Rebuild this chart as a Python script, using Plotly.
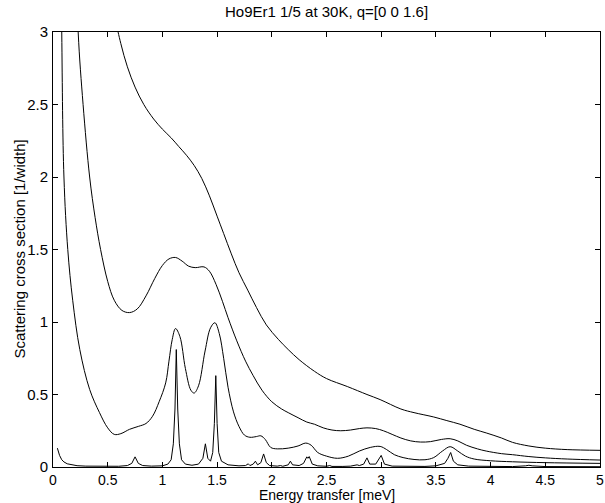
import plotly.graph_objects as go

# ---- data ----
energy_a = [0.50, 0.57, 0.62, 0.68, 0.75, 0.83, 0.92, 1.00, 1.08, 1.15, 1.22, 1.29, 1.36, 1.43,
            1.50, 1.56, 1.63, 1.70, 1.78, 1.86, 1.95, 2.06, 2.15, 2.25, 2.39, 2.50, 2.69, 2.87,
            2.99, 3.18, 3.30, 3.48, 3.60, 3.72, 3.85, 3.96, 4.10, 4.20, 4.35, 4.50, 4.70, 5.00]
signal_a = [3.60, 3.10, 2.92, 2.76, 2.62, 2.50, 2.40, 2.33, 2.27, 2.21, 2.15, 2.08, 1.99, 1.87,
            1.73, 1.61, 1.47, 1.34, 1.22, 1.10, 0.98, 0.88, 0.81, 0.74, 0.66, 0.61, 0.555, 0.50,
            0.465, 0.40, 0.375, 0.345, 0.32, 0.295, 0.26, 0.235, 0.20, 0.17, 0.145, 0.13, 0.12, 0.115]

energy_b = [0.19, 0.23, 0.275, 0.335, 0.385, 0.435, 0.50, 0.56, 0.63, 0.70, 0.77, 0.85, 0.93,
            1.00, 1.06, 1.12, 1.18, 1.24, 1.30, 1.38, 1.43, 1.49, 1.55, 1.60, 1.68, 1.76, 1.83,
            1.91, 2.00, 2.09, 2.15, 2.24, 2.32, 2.39, 2.47, 2.55, 2.63, 2.72, 2.80, 2.87, 2.95,
            3.02, 3.10, 3.18, 3.27, 3.36, 3.45, 3.55, 3.63, 3.70, 3.78, 3.88, 3.96, 4.10, 4.20,
            4.35, 4.50, 4.70, 5.00]
signal_b = [4.00, 3.00, 2.50, 2.00, 1.72, 1.50, 1.28, 1.15, 1.08, 1.065, 1.09, 1.18, 1.30,
            1.39, 1.435, 1.445, 1.42, 1.385, 1.375, 1.38, 1.35, 1.26, 1.14, 1.03, 0.87, 0.73, 0.63,
            0.53, 0.45, 0.40, 0.375, 0.34, 0.31, 0.295, 0.27, 0.255, 0.25, 0.255, 0.265, 0.27, 0.265,
            0.25, 0.225, 0.20, 0.18, 0.172, 0.175, 0.19, 0.195, 0.18, 0.15, 0.125, 0.11, 0.092, 0.085,
            0.072, 0.063, 0.055, 0.048]

energy_c = [0.06, 0.08, 0.10, 0.135, 0.18, 0.245, 0.335, 0.425, 0.50, 0.56, 0.62, 0.70, 0.78,
            0.85, 0.91, 0.97, 1.03, 1.06, 1.09, 1.12, 1.16, 1.21, 1.26, 1.29, 1.33, 1.39, 1.44,
            1.48, 1.52, 1.56, 1.60, 1.65, 1.70, 1.75, 1.80, 1.86, 1.90, 1.94, 1.99, 2.05, 2.15,
            2.24, 2.31, 2.36, 2.42, 2.50, 2.60, 2.70, 2.80, 2.90, 2.99, 3.05, 3.12, 3.20, 3.30,
            3.40, 3.48, 3.56, 3.63, 3.70, 3.77, 3.85, 4.00, 4.20, 4.50, 5.00]
signal_c = [5.00, 3.00, 2.00, 1.50, 1.15, 0.81, 0.535, 0.375, 0.27, 0.225, 0.23, 0.26, 0.28,
            0.30, 0.35, 0.45, 0.58, 0.73, 0.88, 0.955, 0.90, 0.68, 0.53, 0.51, 0.56, 0.80, 0.96,
            0.995, 0.92, 0.75, 0.55, 0.38, 0.28, 0.22, 0.205, 0.21, 0.215, 0.19, 0.135, 0.125, 0.13,
            0.145, 0.165, 0.15, 0.10, 0.075, 0.06, 0.075, 0.11, 0.135, 0.142, 0.12, 0.085, 0.065, 0.052,
            0.05, 0.065, 0.11, 0.14, 0.11, 0.075, 0.055, 0.043, 0.036, 0.03, 0.025]

energy_d = [0.04, 0.06, 0.08, 0.10, 0.13, 0.17, 0.22, 0.30, 0.40, 0.50, 0.60, 0.68, 0.72, 0.75,
            0.78, 0.82, 0.90, 1.00, 1.05, 1.08, 1.10, 1.115, 1.127, 1.14, 1.155, 1.175, 1.21, 1.27,
            1.33, 1.37, 1.393, 1.415, 1.44, 1.46, 1.475, 1.488, 1.50, 1.515, 1.54, 1.60, 1.70, 1.76,
            1.785, 1.80, 1.83, 1.85, 1.87, 1.90, 1.925, 1.95, 1.98, 2.05, 2.08, 2.10, 2.15, 2.17,
            2.19, 2.25, 2.29, 2.32, 2.33, 2.342, 2.37, 2.42, 2.50, 2.53, 2.55, 2.65, 2.72, 2.78,
            2.80, 2.84, 2.87, 2.895, 2.95, 3.00, 3.03, 3.10, 3.20, 3.31, 3.40, 3.50, 3.58, 3.61,
            3.635, 3.66, 3.70, 3.80, 3.90, 4.00, 4.20, 4.32, 4.35, 4.38, 4.50, 5.00]
signal_d = [0.13, 0.08, 0.05, 0.035, 0.022, 0.014, 0.009, 0.006, 0.004, 0.004, 0.005, 0.01, 0.025, 0.07,
            0.025, 0.01, 0.006, 0.008, 0.02, 0.05, 0.16, 0.40, 0.81, 0.40, 0.16, 0.05, 0.02, 0.012,
            0.02, 0.06, 0.16, 0.06, 0.04, 0.10, 0.30, 0.63, 0.30, 0.10, 0.04, 0.015, 0.008, 0.01,
            0.022, 0.01, 0.02, 0.04, 0.015, 0.03, 0.09, 0.03, 0.01, 0.006, 0.01, 0.005, 0.015, 0.04,
            0.015, 0.01, 0.025, 0.07, 0.06, 0.072, 0.02, 0.008, 0.005, 0.01, 0.004, 0.004, 0.006, 0.015,
            0.01, 0.02, 0.063, 0.02, 0.02, 0.08, 0.02, 0.006, 0.004, 0.006, 0.004, 0.008, 0.025, 0.06,
            0.10, 0.04, 0.015, 0.006, 0.004, 0.003, 0.003, 0.008, 0.012, 0.008, 0.003, 0.002]

x_ticks = [0, 0.5, 1, 1.5, 2, 2.5, 3, 3.5, 4, 4.5, 5]
x_tick_text = ["0", "0.5", "1", "1.5", "2", "2.5", "3", "3.5", "4", "4.5", "5"]
y_ticks = [0, 0.5, 1, 1.5, 2, 2.5, 3]
y_tick_text = ["0", "0.5", "1", "1.5", "2", "2.5", "3"]

title_text = "Ho9Er1 1/5 at 30K, q=[0 0 1.6]"
x_label = "Energy transfer [meV]"
y_label = "Scattering cross section [1/width]"

FONT = "Liberation Sans, Arial, Helvetica, sans-serif"
FS = 15      # title, y axis texts
FS_X = 14    # x axis texts (tight bottom margin)

fig = go.Figure()
for xs, ys, shape in [(energy_a, signal_a, "spline"), (energy_b, signal_b, "spline"),
                      (energy_c, signal_c, "spline"), (energy_d, signal_d, "linear")]:
    fig.add_trace(go.Scatter(x=xs, y=ys, mode="lines",
                             line=dict(color="black", width=1, shape=shape),
                             showlegend=False, hoverinfo="skip"))

axis_common = dict(showline=True, linecolor="black", linewidth=1, mirror="ticks",
                   ticks="inside", ticklen=5, tickcolor="black", tickwidth=1,
                   showgrid=False, zeroline=False, ticklabeloverflow="allow")

fig.update_layout(
    width=605, height=503,
    margin=dict(l=53, r=1, t=32, b=36),
    paper_bgcolor="white", plot_bgcolor="white",
    font=dict(family=FONT, size=FS, color="black"),
    xaxis=dict(range=[0, 5], tickvals=x_ticks, ticktext=x_tick_text,
               ticklabelstandoff=0,
               tickfont=dict(family=FONT, size=FS_X, color="black"), **axis_common),
    yaxis=dict(range=[0, 3], tickvals=y_ticks, ticktext=y_tick_text,
               ticklabelstandoff=1,
               tickfont=dict(family=FONT, size=FS, color="black"), **axis_common),
    annotations=[
        dict(text=title_text, xref="paper", yref="paper", x=0.5, y=1, yshift=10,
             xanchor="center", yanchor="bottom", showarrow=False,
             font=dict(family=FONT, size=FS, color="black")),
        dict(text=x_label, xref="paper", yref="paper", x=0.5, y=0, yshift=-28,
             xanchor="center", yanchor="middle", showarrow=False, borderpad=0,
             font=dict(family=FONT, size=FS_X, color="black")),
        dict(text=y_label, xref="paper", yref="paper", x=0, y=0.5, xshift=-34,
             xanchor="center", yanchor="middle", textangle=-90, showarrow=False,
             font=dict(family=FONT, size=FS, color="black")),
    ],
)

fig.write_html("out.html")
